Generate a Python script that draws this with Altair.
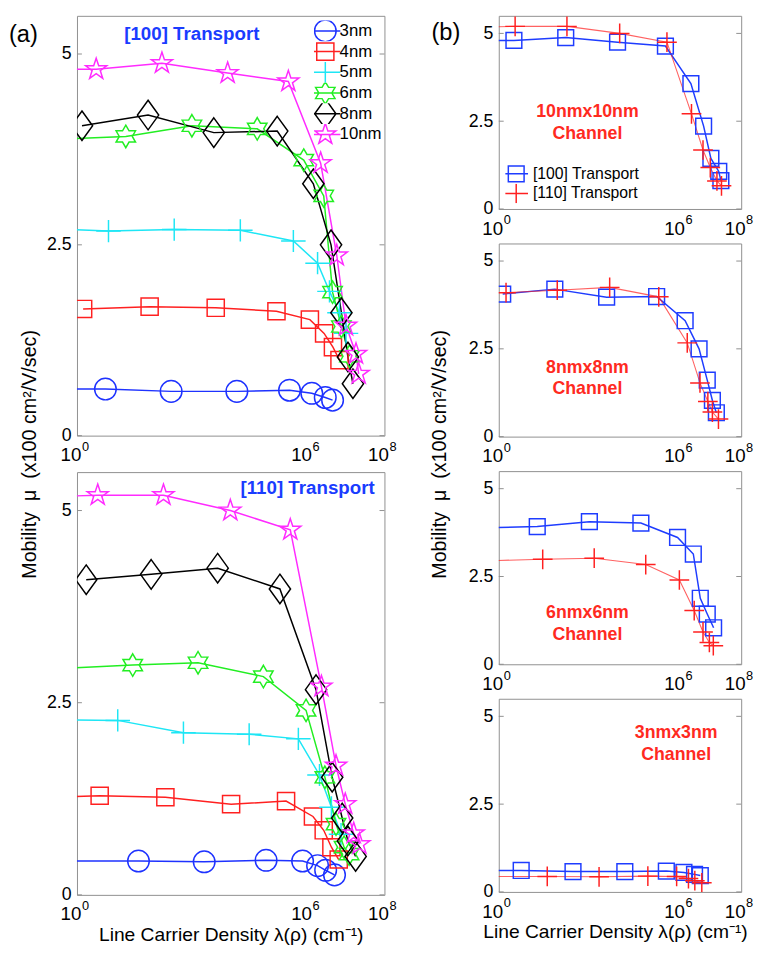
import math
import altair as alt
import pandas as pd

SIZES = ["3nm", "4nm", "5nm", "6nm", "8nm", "10nm"]
ORIENTS = ["[100] Transport", "[110] Transport"]
RIGHT_SIZES = ["10nm", "8nm", "6nm", "3nm"]
RIGHT_LABELS = [["10nmx10nm", "Channel"], ["8nmx8nm", "Channel"],
                ["6nmx6nm", "Channel"], ["3nmx3nm", "Channel"]]

X_TICKS = [1, 1e6, 1e8]
X_TICK_EXP = ["0", "6", "8"]
Y_TICKS = [0, 2.5, 5]

SIZE_COLORS = ["#1e32ff", "#ff2020", "#1ee6f5", "#22ee22", "#000000", "#ff2bff"]
ORIENT_COLORS = ["#1e3cff", "#ff2020"]
FRAME = "#8f8f8f"

# [100] transport: log10(line carrier density, cm^-1) and mobility (x100 cm^2/V/s)
LOGL_100 = {
    "3nm": [-0.7, 0.74, 2.45, 4.16, 5.53, 6.11, 6.46, 6.65],
    "4nm": [0.16, 1.89, 3.61, 5.19, 6.06, 6.43, 6.66, 6.83],
    "5nm": [-0.7, 0.82, 2.53, 4.25, 5.63, 6.26, 6.57, 6.83, 7.00],
    "6nm": [-0.7, 1.27, 2.99, 4.69, 5.90, 6.42, 6.65, 6.88, 7.09],
    "8nm": [0.13, 1.85, 3.56, 5.21, 6.15, 6.61, 6.88, 7.05, 7.18],
    "10nm": [-0.7, 0.50, 2.21, 3.92, 5.50, 6.34, 6.76, 7.00, 7.26, 7.33],
}
MU_100 = {
    "3nm": [0.61, 0.61, 0.58, 0.58, 0.595, 0.555, 0.50, 0.465],
    "4nm": [1.66, 1.69, 1.675, 1.63, 1.52, 1.34, 1.16, 0.99],
    "5nm": [2.71, 2.68, 2.70, 2.69, 2.55, 2.26, 1.89, 1.61, 1.34],
    "6nm": [3.88, 3.92, 4.06, 4.02, 3.61, 3.14, 1.88, 1.43, 1.04],
    "8nm": [4.06, 4.20, 3.97, 3.99, 3.30, 2.50, 1.61, 1.03, 0.68],
    "10nm": [4.80, 4.80, 4.88, 4.75, 4.64, 3.57, 2.36, 1.44, 1.07, 0.81],
}
# [110] transport
LOGL_110 = {
    "3nm": [-0.7, 1.60, 3.31, 4.92, 5.87, 6.26, 6.47, 6.70],
    "4nm": [-0.7, 0.59, 2.30, 4.01, 5.44, 6.14, 6.42, 6.62, 6.81],
    "5nm": [-0.7, 1.06, 2.77, 4.48, 5.76, 6.31, 6.62, 6.87],
    "6nm": [-0.7, 1.45, 3.15, 4.85, 5.96, 6.45, 6.74, 6.95, 7.08],
    "8nm": [0.24, 1.93, 3.66, 5.28, 6.22, 6.64, 6.90, 7.05, 7.25],
    "10nm": [-0.7, 0.54, 2.25, 3.99, 5.55, 6.36, 6.74, 6.98, 7.20, 7.35],
}
MU_110 = {
    "3nm": [0.44, 0.44, 0.43, 0.45, 0.44, 0.38, 0.32, 0.26],
    "4nm": [1.27, 1.29, 1.27, 1.18, 1.22, 1.02, 0.84, 0.62, 0.46],
    "5nm": [2.28, 2.27, 2.11, 2.09, 2.03, 1.56, 1.14, 0.79],
    "6nm": [2.94, 2.99, 3.02, 2.84, 2.40, 1.53, 0.92, 0.62, 0.53],
    "8nm": [4.10, 4.17, 4.25, 3.98, 2.67, 1.53, 1.00, 0.70, 0.50],
    "10nm": [5.18, 5.20, 5.20, 5.00, 4.75, 2.71, 1.68, 1.18, 0.80, 0.66],
}


def frame(logl, mu, orient):
    rows = []
    for s in SIZES:
        for lx, m in zip(logl[s], mu[s]):
            rows.append({"size": s, "orient": orient, "lam": 10 ** lx, "mu": m})
    return pd.DataFrame(rows)


DF100 = frame(LOGL_100, MU_100, ORIENTS[0])
DF110 = frame(LOGL_110, MU_110, ORIENTS[1])
DF_YT = pd.DataFrame({"mu": Y_TICKS})
DF_XT = pd.DataFrame({"lam": X_TICKS, "exp": X_TICK_EXP})

LW, RW = 312, 246          # plot widths
LH_TOP, LH_BOT = 426, 429  # left plot heights
RH = 196                   # right plot height


# ---------- marker geometry (styling only) ----------
def poly(points, k=1.0):
    return "M" + "L".join(f"{x * k:.3f},{y * k:.3f}" for x, y in points) + "Z"


def circle(r):
    return (f"M{r:.3f},0A{r:.3f},{r:.3f},0,1,1,{-r:.3f},0"
            f"A{r:.3f},{r:.3f},0,1,1,{r:.3f},0Z")


def square(h):
    return poly([(-h, -h), (h, -h), (h, h), (-h, h)])


def plus(hx, hy):
    return f"M{-hx:.3f},0L{hx:.3f},0M0,{-hy:.3f}L0,{hy:.3f}"


def star(n, ro, ri):
    pts = []
    for i in range(2 * n):
        r = ro if i % 2 == 0 else ri
        a = -math.pi / 2 + i * math.pi / n
        pts.append((r * math.cos(a), r * math.sin(a)))
    return poly(pts)


def diamond(hx, hy):
    return poly([(0, -hy), (hx, 0), (0, hy), (-hx, 0)])


def seg(h):
    return f"M{-h:.3f},0L{h:.3f},0"


def left_shapes(k):
    return [circle(0.73 * k), square(0.58 * k), plus(0.83 * k, 0.75 * k),
            star(6, 0.76 * k, 0.44 * k), diamond(0.72 * k, 1.0 * k),
            star(5, 0.75 * k, 0.29 * k)]


LEFT_SHAPES = left_shapes(1.0)
LEFT_LEG_SHAPES = [seg(1.45) + p for p in left_shapes(15 / 10.5)]
RIGHT_SHAPES = [square(0.8), plus(1.0, 1.0)]
RIGHT_LEG_SHAPES = [seg(1.2) + square(0.8), seg(1.2) + plus(1.0, 1.0)]

XSCALE = alt.Scale(type="log", domain=[1, 1e8], nice=False)
YSCALE = alt.Scale(domain=[0, 5.5], nice=False, zero=False)
YLABEL = "'' + datum.value"
XTITLE = "Line Carrier Density \u03bb(\u03c1) (cm\u207b\u00b9)"
YTITLE = "Mobility\u00a0 \u03bc\u00a0 (x100 cm\u00b2/V/sec)"


def x_enc(title_x=None):
    kw = dict(values=X_TICKS, labels=False, grid=False, ticks=False, domain=False)
    if title_x is not None:
        kw.update(titleX=title_x, titleY=40, titleAlign="center", titleBaseline="middle",
                  titleFontSize=19.5, titleFontWeight="normal", titleColor="black")
        return alt.X("lam:Q", scale=XSCALE, axis=alt.Axis(**kw), title=XTITLE)
    return alt.X("lam:Q", scale=XSCALE, axis=alt.Axis(**kw), title=None)


def y_enc(title_pos=None):
    kw = dict(values=Y_TICKS, labelExpr=YLABEL, grid=False, ticks=False, domain=False,
              labelFontSize=18, labelPadding=6, labelColor="black")
    if title_pos is not None:
        kw.update(titleX=title_pos[0], titleY=title_pos[1], titleAngle=-90,
                  titleAlign="center", titleBaseline="middle", titleFontSize=20,
                  titleFontWeight="normal", titleColor="black")
        return alt.Y("mu:Q", scale=YSCALE, axis=alt.Axis(**kw), title=YTITLE)
    return alt.Y("mu:Q", scale=YSCALE, axis=alt.Axis(**kw), title=None)


def note(text, x, y, color, size, weight="bold", align="center"):
    return alt.Chart(alt.Data(values=[{"k": 0}])).mark_text(
        text=text, color=color, fontSize=size, fontWeight=weight, align=align,
        baseline="middle", lineHeight=22
    ).encode(x=alt.value(x), y=alt.value(y))


def inward_ticks(y, width):
    base = alt.Chart(DF_YT).mark_tick(orient="horizontal", size=5, thickness=1,
                                      color=FRAME, opacity=1)
    return [base.encode(y=y, x=alt.value(2.5)),
            base.encode(y=y, x=alt.value(width - 2.5))]


def x_tick_labels(x, height):
    ten = alt.Chart(DF_XT).mark_text(
        text="10", fontSize=19, align="right", baseline="alphabetic", dx=4.5,
        color="black").encode(x=x, y=alt.value(height + 26))
    exp = alt.Chart(DF_XT).mark_text(
        fontSize=13, align="left", baseline="alphabetic", dx=5,
        color="black").encode(x=x, y=alt.value(height + 15.5), text="exp:N")
    return [ten, exp]


def left_panel(df, height, xt, ytpos, notes, legend):
    x = x_enc(LW / 2 if xt else None)
    y = y_enc(ytpos)
    col = alt.Scale(domain=SIZES, range=SIZE_COLORS)
    lines = alt.Chart(df).mark_line(strokeWidth=1.5, clip=True).encode(
        x=x, y=y, color=alt.Color("size:N", scale=col, legend=None))
    pts = alt.Chart(df).mark_point(filled=False, strokeWidth=1.5, size=900,
                                   opacity=1, clip=True).encode(
        x=x, y=y, color=alt.Color("size:N", scale=col, legend=None),
        shape=alt.Shape("size:N", scale=alt.Scale(domain=SIZES, range=LEFT_SHAPES),
                        legend=None))
    layers = inward_ticks(y, LW) + x_tick_labels(x, height) + [lines, pts]
    if legend:
        leg = alt.Legend(orient="none", legendX=240.5, legendY=4.8, title=None,
                         padding=0, symbolSize=441, symbolStrokeWidth=1.5,
                         labelFontSize=17, labelOffset=3, rowPadding=0, clipHeight=21,
                         symbolOpacity=1, labelColor="black")
        lg = alt.Chart(df).transform_filter("false").mark_point(
            filled=False, strokeWidth=1.5, opacity=1).encode(
            x=x, y=y,
            color=alt.Color("size:N", scale=col, legend=leg),
            shape=alt.Shape("size:N", scale=alt.Scale(domain=SIZES, range=LEFT_LEG_SHAPES),
                            legend=leg))
        layers.append(lg)
    layers += notes
    return alt.layer(*layers).properties(width=LW, height=height).resolve_scale(
        color="independent", shape="independent")


def right_panel(size, xt, ytpos, notes, legend):
    df = pd.concat([DF100[DF100["size"] == size], DF110[DF110["size"] == size]])
    x = x_enc(RW / 2 - 5 if xt else None)
    y = y_enc(ytpos)
    col = alt.Scale(domain=ORIENTS, range=ORIENT_COLORS)
    lines = alt.Chart(df).mark_line(clip=True).encode(
        x=x, y=y, color=alt.Color("orient:N", scale=col, legend=None),
        strokeWidth=alt.StrokeWidth("orient:N", scale=alt.Scale(domain=ORIENTS, range=[1.5, 1.1]),
                                    legend=None),
        opacity=alt.Opacity("orient:N", scale=alt.Scale(domain=ORIENTS, range=[1.0, 0.7]),
                            legend=None))
    pts = alt.Chart(df).mark_point(filled=False, strokeWidth=1.5, size=400,
                                   opacity=1, clip=True).encode(
        x=x, y=y, color=alt.Color("orient:N", scale=col, legend=None),
        shape=alt.Shape("orient:N", scale=alt.Scale(domain=ORIENTS, range=RIGHT_SHAPES),
                        legend=None))
    layers = inward_ticks(y, RW) + x_tick_labels(x, RH) + [lines, pts]
    if legend:
        leg = alt.Legend(orient="none", legendX=6.7, legendY=150.3, title=None,
                         padding=0, symbolSize=400, symbolStrokeWidth=1.5,
                         labelFontSize=16, labelOffset=6, rowPadding=0, clipHeight=20,
                         symbolOpacity=1, labelColor="black")
        lg = alt.Chart(df).transform_filter("false").mark_point(
            filled=False, strokeWidth=1.5, opacity=1).encode(
            x=x, y=y,
            color=alt.Color("orient:N", scale=col, legend=leg),
            shape=alt.Shape("orient:N", scale=alt.Scale(domain=ORIENTS, range=RIGHT_LEG_SHAPES),
                            legend=leg))
        layers.append(lg)
    layers += notes
    return alt.layer(*layers).properties(width=RW, height=RH).resolve_scale(
        color="independent", shape="independent", strokeWidth="independent",
        opacity="independent")


BLUE_TXT = "#1a3cff"
RED_TXT = "#ff2a1f"

left_top = left_panel(
    DF100, LH_TOP, False, (-48, 444.5),
    [note("[100] Transport", 116.5, 19, BLUE_TXT, 19),
     note("(a)", -69, 19.5, "black", 24, weight="normal", align="left")],
    True)
left_bottom = left_panel(
    DF110, LH_BOT, True, None,
    [note("[110] Transport", 234, 16.3, BLUE_TXT, 19)],
    False)

r_notes_pos = [(90, 98), (90, 126), (90, 144), (180, 35)]
right_panels = []
for i, s in enumerate(RIGHT_SIZES):
    notes = [note(RIGHT_LABELS[i], r_notes_pos[i][0], r_notes_pos[i][1], RED_TXT, 18)]
    if i == 0:
        notes.append(note("(b)", -68.3, 17.5, "black", 24, weight="normal", align="left"))
    right_panels.append(right_panel(
        s, i == 3, (-60, 213.5) if i == 1 else None, notes, i == 0))

left = alt.vconcat(left_top, left_bottom, spacing=37, bounds="flush")
right = alt.vconcat(*right_panels, spacing=35, bounds="flush")

chart = alt.hconcat(left, right, spacing=32).properties(
    padding={"left": 0, "top": 0, "right": 0, "bottom": 0}
).configure(font="Liberation Sans").configure_view(stroke=FRAME, strokeWidth=1)

chart.save("out.html", embed_options={"renderer": "svg", "actions": False})
